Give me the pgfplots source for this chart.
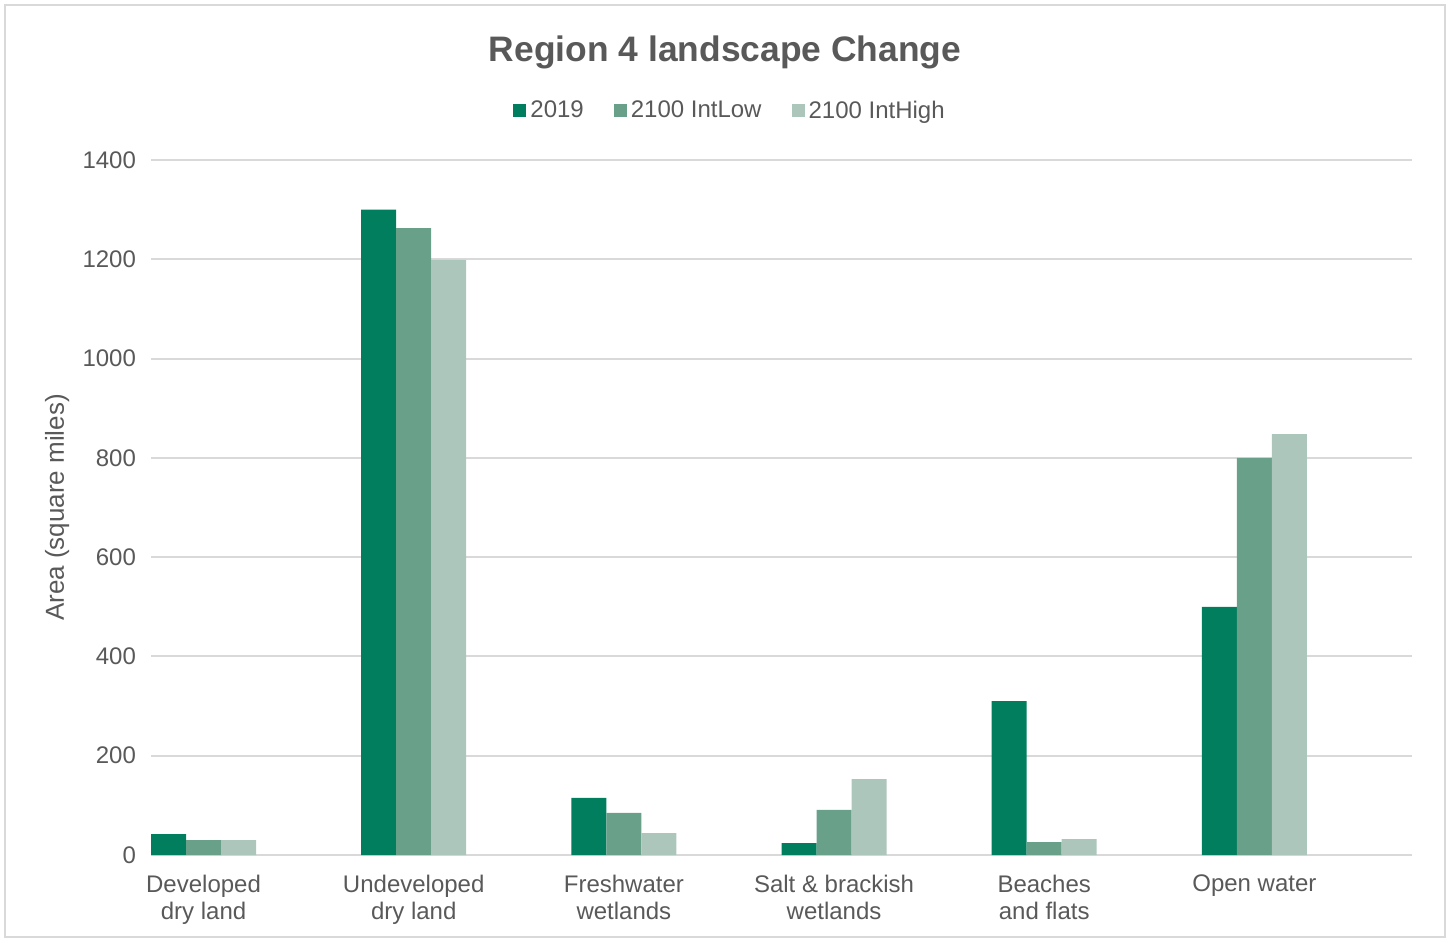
\documentclass[border=0pt]{standalone}
\usepackage{pgfplots}
\pgfplotsset{compat=1.18}
\usepackage{fontspec}
\setmainfont{Liberation Sans}
\definecolor{cA}{HTML}{007E5E}
\definecolor{cB}{HTML}{68A08A}
\definecolor{cC}{HTML}{ADC6BC}
\definecolor{txt}{HTML}{595959}
\definecolor{grd}{HTML}{D9D9D9}
\begin{document}
\begin{tikzpicture}
\useasboundingbox (0,0) rectangle (725pt,469.5pt);
\draw[grd, line width=1pt] (2.5pt,1pt) rectangle (722.5pt,467pt);
\node[txt, font=\fontsize{17.7}{21}\selectfont\bfseries, anchor=base] at (362.5pt,438.5pt) {Region 4 landscape Change};
\begin{axis}[
  at={(75.5pt,42pt)}, anchor=south west,
  scale only axis, width=630.5pt, height=347.5pt,
  ymin=0, ymax=1400, xmin=-0.25, xmax=5.75,
  ytick={0,200,...,1400},
  xtick={0,1,2,3,4,5},
  xticklabels={{Developed\\dry land},{Undeveloped\\dry land},{Freshwater\\wetlands},{Salt \& brackish\\wetlands},{Beaches\\and flats},{Open water}},
  xticklabel style={align=center, font=\fontsize{12}{13.5}\selectfont, text=txt, anchor=north, yshift=-6.5pt},
  yticklabel style={font=\fontsize{12}{13.5}\selectfont, text=txt, xshift=-4pt},
  /pgf/number format/assume math mode=true,
  /pgf/number format/1000 sep={},
  ymajorgrids, grid style={grd, line width=1pt},
  axis x line*=bottom, axis y line*=left,
  x axis line style={grd, line width=1pt},
  y axis line style={draw=none},
  major tick length=0pt,
  ylabel={Area (square miles)},
  ylabel style={at={(axis description cs:-0.0745,0.5)}, anchor=center, rotate=0, font=\fontsize{13}{15}\selectfont, text=txt},
  ybar=0pt, bar width=0.1665,
  legend style={at={(0.46,1.0705)}, anchor=center, draw=none, fill=none, legend columns=-1,
    font=\fontsize{12}{13.5}\selectfont, text=txt,
    /tikz/every even column/.append style={column sep=13pt}},
  legend image code/.code={\fill[#1] (0pt,-3.2pt) rectangle (6.5pt,3.3pt);},
  legend cell align=left,
]
\addplot[fill=cA, draw=none, bar shift=-0.1665] coordinates {(0,42) (1,1300) (2,115) (3,24) (4,310) (5,500)};
\addplot[fill=cB, draw=none, bar shift=0] coordinates {(0,30) (1,1263) (2,85) (3,91) (4,26) (5,800)};
\addplot[fill=cC, draw=none, bar shift=0.1665] coordinates {(0,30) (1,1199) (2,44) (3,153) (4,32) (5,848)};
\legend{2019,2100 IntLow,2100 IntHigh}
\end{axis}
\end{tikzpicture}
\end{document}
